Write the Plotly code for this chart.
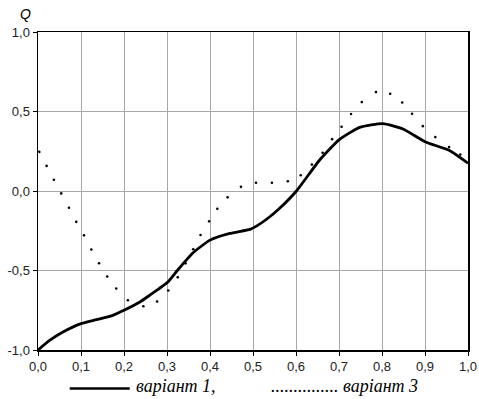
import plotly.graph_objects as go

# Solid curve (variant 1)
x1 = [0.0, 0.027, 0.058, 0.1, 0.136, 0.174, 0.2, 0.237, 0.26, 0.28, 0.302, 0.324, 0.36,
      0.4, 0.446, 0.493, 0.508, 0.539, 0.562, 0.601, 0.655, 0.70, 0.748, 0.802,
      0.849, 0.9, 0.957, 1.0]
y1 = [-1.0, -0.94, -0.887, -0.834, -0.809, -0.782, -0.750, -0.698, -0.655, -0.617, -0.572,
      -0.50, -0.39, -0.309, -0.267, -0.241, -0.221, -0.162, -0.109, 0.0, 0.195,
      0.322, 0.40, 0.424, 0.39, 0.31, 0.255, 0.175]

# Dotted curve (variant 3)
x3 = [0.003, 0.020, 0.037, 0.054, 0.072, 0.089, 0.107, 0.124, 0.142, 0.161, 0.182,
      0.209, 0.245, 0.277, 0.303, 0.325, 0.343, 0.361, 0.378, 0.398, 0.417, 0.441,
      0.472, 0.507, 0.544, 0.581, 0.611, 0.637, 0.662, 0.684, 0.706, 0.728, 0.753,
      0.786, 0.819, 0.847, 0.870, 0.895, 0.924, 0.956, 0.982]
y3 = [0.246, 0.158, 0.071, -0.015, -0.105, -0.194, -0.279, -0.368, -0.454, -0.538,
      -0.613, -0.687, -0.725, -0.695, -0.626, -0.542, -0.455, -0.366, -0.277, -0.191,
      -0.112, -0.040, 0.026, 0.052, 0.052, 0.061, 0.099, 0.166, 0.241, 0.326, 0.404,
      0.484, 0.559, 0.622, 0.612, 0.557, 0.486, 0.408, 0.339, 0.276, 0.229]

x_ticks = [0.0, 0.1, 0.2, 0.3, 0.4, 0.5, 0.6, 0.7, 0.8, 0.9, 1.0]
x_labels = ["0,0", "0,1", "0,2", "0,3", "0,4", "0,5", "0,6", "0,7", "0,8", "0,9", "1,0"]
y_ticks = [-1.0, -0.5, 0.0, 0.5, 1.0]
y_labels = ["-1,0", "-0,5", "0,0", "0,5", "1,0"]

legend1 = "варіант 1,"
legend3 = "............... варіант 3"
y_title = "Q"

fig = go.Figure()
fig.add_trace(go.Scatter(x=x3, y=y3, mode="markers",
                         marker=dict(size=2.6, color="black", line=dict(width=0)),
                         showlegend=False, hoverinfo="skip"))
fig.add_trace(go.Scatter(x=x1, y=y1, mode="lines",
                         line=dict(color="black", width=2.8, shape="spline", smoothing=0.5),
                         showlegend=False, hoverinfo="skip"))

axis_common = dict(showgrid=True, gridcolor="#a8a8a8", gridwidth=1,
                   showline=True, linecolor="black", linewidth=1.5, mirror=True,
                   ticks="outside", ticklen=4, tickcolor="black", tickwidth=1,
                   zeroline=False, automargin=False,
                   tickfont=dict(family="Liberation Sans", size=13, color="#222"))

fig.update_xaxes(range=[0, 1], tickvals=x_ticks, ticktext=x_labels, **axis_common)
fig.update_yaxes(range=[-1, 1], tickvals=y_ticks, ticktext=y_labels, **axis_common)

# page-pixel -> paper conversion (plot area spans 38.3..468.3 x 32.3..349.6)
def px_x(p):
    return (p - 38.3) / 430.0

def px_y(p):
    return (349.6 - p) / 317.3

fig.add_shape(type="line", xref="paper", yref="paper",
              x0=px_x(70), x1=px_x(130), y0=px_y(388), y1=px_y(388),
              line=dict(color="black", width=2.5))

serif = dict(family="Liberation Serif", size=18, color="black", style="italic")
fig.add_annotation(xref="paper", yref="paper", x=px_x(134), y=px_y(385.5),
                   xanchor="left", yanchor="middle", showarrow=False,
                   text=legend1, font=serif)
fig.add_annotation(xref="paper", yref="paper", x=px_x(269), y=px_y(385.5),
                   xanchor="left", yanchor="middle", showarrow=False,
                   text=legend3, font=serif)
fig.add_annotation(xref="paper", yref="paper", x=px_x(26), y=px_y(14),
                   xanchor="center", yanchor="middle", showarrow=False,
                   text=y_title,
                   font=dict(family="Liberation Sans", size=14, color="black", style="italic"))

fig.update_layout(width=479, height=399,
                  margin=dict(l=38, r=11, t=32, b=49, autoexpand=False),
                  paper_bgcolor="white", plot_bgcolor="white",
                  showlegend=False, hovermode=False)

fig.write_html("out.html", config={"displayModeBar": False, "staticPlot": True},
               post_script="document.body.style.margin='0';document.body.style.overflow='hidden';")
